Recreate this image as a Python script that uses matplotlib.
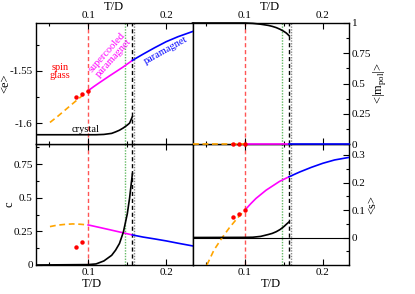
import matplotlib
matplotlib.use('Agg')
import matplotlib.pyplot as plt
from matplotlib.ticker import MultipleLocator

plt.rcParams['font.family'] = ['Liberation Serif', 'DejaVu Serif']
plt.rcParams['mathtext.fontset'] = 'custom'
plt.rcParams['mathtext.rm'] = 'Liberation Serif'

# spin glass branch (orange dashed)
T_sg = [0.051, 0.06, 0.07, 0.08, 0.09, 0.1]
e_sg = [-1.599, -1.5938, -1.5875, -1.5812, -1.575, -1.5688]
c_sg = [0.2856, 0.296, 0.302, 0.3055, 0.303, 0.298]
s_sg = [-0.1, -0.046, -0.003, 0.036, 0.07, 0.1]
T_sg_m = [0.0325, 0.1]
m_sg = [0, 0]

# supercooled paramagnet (magenta)
T_sc = [0.1, 0.107, 0.114, 0.127, 0.1443, 0.1566]
e_sc = [-1.5688, -1.565, -1.5614, -1.5549, -1.5465, -1.540]
m_sc = [0, 0, 0, 0, 0, 0]
c_sc = [0.298, 0.289, 0.280, 0.263, 0.240, 0.2235]
s_sc = [0.1, 0.122, 0.142, 0.172, 0.204, 0.221]

# paramagnet (blue)
T_pm = [0.1566, 0.17, 0.185, 0.2, 0.215, 0.234]
e_pm = [-1.540, -1.5342, -1.528, -1.5222, -1.5175, -1.5125]
m_pm = [0, 0, 0, 0, 0, 0]
c_pm = [0.2235, 0.208, 0.194, 0.179, 0.162, 0.1416]
s_pm = [0.221, 0.238, 0.255, 0.270, 0.282, 0.2915]

# crystal (black)
T_cr = [0.0325, 0.1, 0.11, 0.12, 0.13, 0.135, 0.14, 0.145, 0.15, 0.153, 0.1566]
e_cr = [-1.6107, -1.6107, -1.6107, -1.6104, -1.6094, -1.608, -1.6064, -1.6042, -1.6015, -1.5996, -1.5934]
m_cr = [1, 1, 0.997, 0.99, 0.98, 0.972, 0.962, 0.948, 0.93, 0.917, 0.895]
c_cr = [0, 0.003, 0.008, 0.03, 0.072, 0.11, 0.16, 0.245, 0.38, 0.5, 0.68]
s_cr = [0, 0.0005, 0.001, 0.004, 0.011, 0.015, 0.021, 0.029, 0.04, 0.048, 0.057]

# simulation points (red)
T_dots = [0.0845, 0.0925, 0.1]
e_dots = [-1.5744, -1.5721, -1.569]
m_dots = [0, 0, 0]
c_dots = [0.137, 0.174]
s_dots = [0.073, 0.085, 0.0996]

# characteristic temperatures
T_sg_line = 0.1
T_k = 0.147
T_m = 0.1566
T_sp = 0.159

W, H = 415, 294
fig = plt.figure(figsize=(W / 100, H / 100), dpi=100)

def px_axes(x0, y0, x1, y1):
    return fig.add_axes([x0 / W, 1 - y1 / H, (x1 - x0) / W, (y1 - y0) / H])

ax_e = px_axes(35.5, 23, 192.5, 144)
ax_m = px_axes(192.5, 23, 349, 144)
ax_c = px_axes(35.5, 144, 192.5, 265)
ax_s = px_axes(192.5, 144, 349, 265)
# top panels over bottom ones so the zero lines at the shared edge stay visible
ax_e.set_zorder(3)
ax_m.set_zorder(3)

dash = (0, (3.5, 2.2))
lw = 1.2

def vlines(ax):
    ax.axvline(T_sg_line, color='#ff5555', ls=(0, (3, 2)), lw=1.0, zorder=1)
    ax.axvline(T_k, color='#66bb66', ls=(0, (1, 1)), lw=1.0, zorder=1)
    ax.axvline(T_m, color='black', ls=(0, (3, 2)), lw=1.0, zorder=1)
    ax.axvline(T_sp, color='#888888', ls=(0, (1, 1)), lw=1.0, zorder=1)

def draw(ax, sg, sc, pm, cr, dots, T_sgx=T_sg, T_d=T_dots, clip=True):
    vlines(ax)
    ax.plot(T_sgx, sg, color='orange', ls=dash, lw=lw, clip_on=clip, zorder=3)
    ax.plot(T_sc, sc, color='magenta', lw=lw, clip_on=clip, zorder=3)
    ax.plot(T_pm, pm, color='blue', lw=lw, clip_on=clip, zorder=3)
    ax.plot(T_cr, cr, color='black', lw=lw, clip_on=clip, zorder=3)
    ax.plot(T_d, dots, 'o', color='red', ms=3.2, mec='none', clip_on=False, zorder=4)

draw(ax_e, e_sg, e_sc, e_pm, e_cr, e_dots)
draw(ax_m, m_sg, m_sc, m_pm, m_cr, m_dots, T_sgx=T_sg_m, clip=False)
draw(ax_c, c_sg, c_sc, c_pm, c_cr, c_dots, T_d=T_dots[:2])
ax_s.axhline(0, color='black', lw=0.8, zorder=2)
draw(ax_s, s_sg, s_sc, s_pm, s_cr, s_dots)

for ax in [ax_e, ax_m, ax_c, ax_s]:
    ax.set_xlim(0.0325, 0.2335)
    ax.set_xticks([0.1, 0.2])
    ax.set_xticklabels(['0.1', '0.2'])
    ax.xaxis.set_minor_locator(MultipleLocator(0.05))
    ax.tick_params(which='both', direction='in', labelsize=8, pad=2,
                   top=True, bottom=True, left=False, right=False)
    ax.tick_params(which='major', length=4, width=0.8)
    ax.tick_params(which='minor', length=2, width=0.8)
    for sp in ax.spines.values():
        sp.set_linewidth(1.0)

ax_e.set_ylim(-1.6195, -1.5045)
ax_e.set_yticks([-1.6, -1.55])
ax_e.set_yticklabels(['-1.6', '-1.55'])
ax_e.yaxis.set_minor_locator(MultipleLocator(0.025))
ax_e.tick_params(which='both', left=True, labelleft=True, labeltop=True, labelbottom=False)

ax_m.set_ylim(0, 1)
ax_m.set_yticks([0, 0.25, 0.5, 0.75, 1])
ax_m.set_yticklabels(['0', '0.25', '0.5', '0.75', '1'])
ax_m.yaxis.set_minor_locator(MultipleLocator(0.125))
ax_m.tick_params(which='both', right=True, labelright=True, labelleft=False,
                 labeltop=True, labelbottom=False)

ax_c.set_ylim(0, 0.9)
ax_c.set_yticks([0, 0.25, 0.5, 0.75])
ax_c.set_yticklabels(['0', '0.25', '0.5', '0.75'])
ax_c.yaxis.set_minor_locator(MultipleLocator(0.125))
ax_c.tick_params(which='both', left=True, labelleft=True)

ax_s.set_ylim(-0.1, 0.34)
ax_s.set_yticks([0, 0.1, 0.2, 0.3])
ax_s.set_yticklabels(['0', '0.1', '0.2', '0.3'])
ax_s.yaxis.set_minor_locator(MultipleLocator(0.05))
ax_s.tick_params(which='both', right=True, labelright=True, labelleft=False)

# phase labels
ax_e.text(0.0635, -1.5505, 'spin\nglass', color='red', fontsize=7.5, ha='center', va='center',
          linespacing=0.9)
ax_e.text(0.1285, -1.535, 'supercooled\nparamagnet', color='magenta', fontsize=7.5,
          ha='center', va='center', rotation=48, linespacing=0.9)
ax_e.text(0.199, -1.5305, 'paramagnet', color='blue', fontsize=7.5, ha='center',
          va='center', rotation=29)
ax_e.text(0.097, -1.6055, 'crystal', color='black', fontsize=7.5, ha='center', va='center')

# axis labels
def ftext(x, y, s, **kw):
    fig.text(x / W, 1 - y / H, s, ha='center', va='center', fontsize=9, **kw)

ftext(114, 7, 'T/D')
ftext(270, 7, 'T/D')
ftext(92, 284, 'T/D')
ftext(271, 284, 'T/D')
ftext(5, 83, '<e>', rotation=90)
ftext(9, 204, 'c', rotation=90)
ftext(379, 83, r'<|m$_{\rm pol}$|>', rotation=90)
ftext(372, 205, '<s>', rotation=90)

fig.savefig('out.png', dpi=100)
